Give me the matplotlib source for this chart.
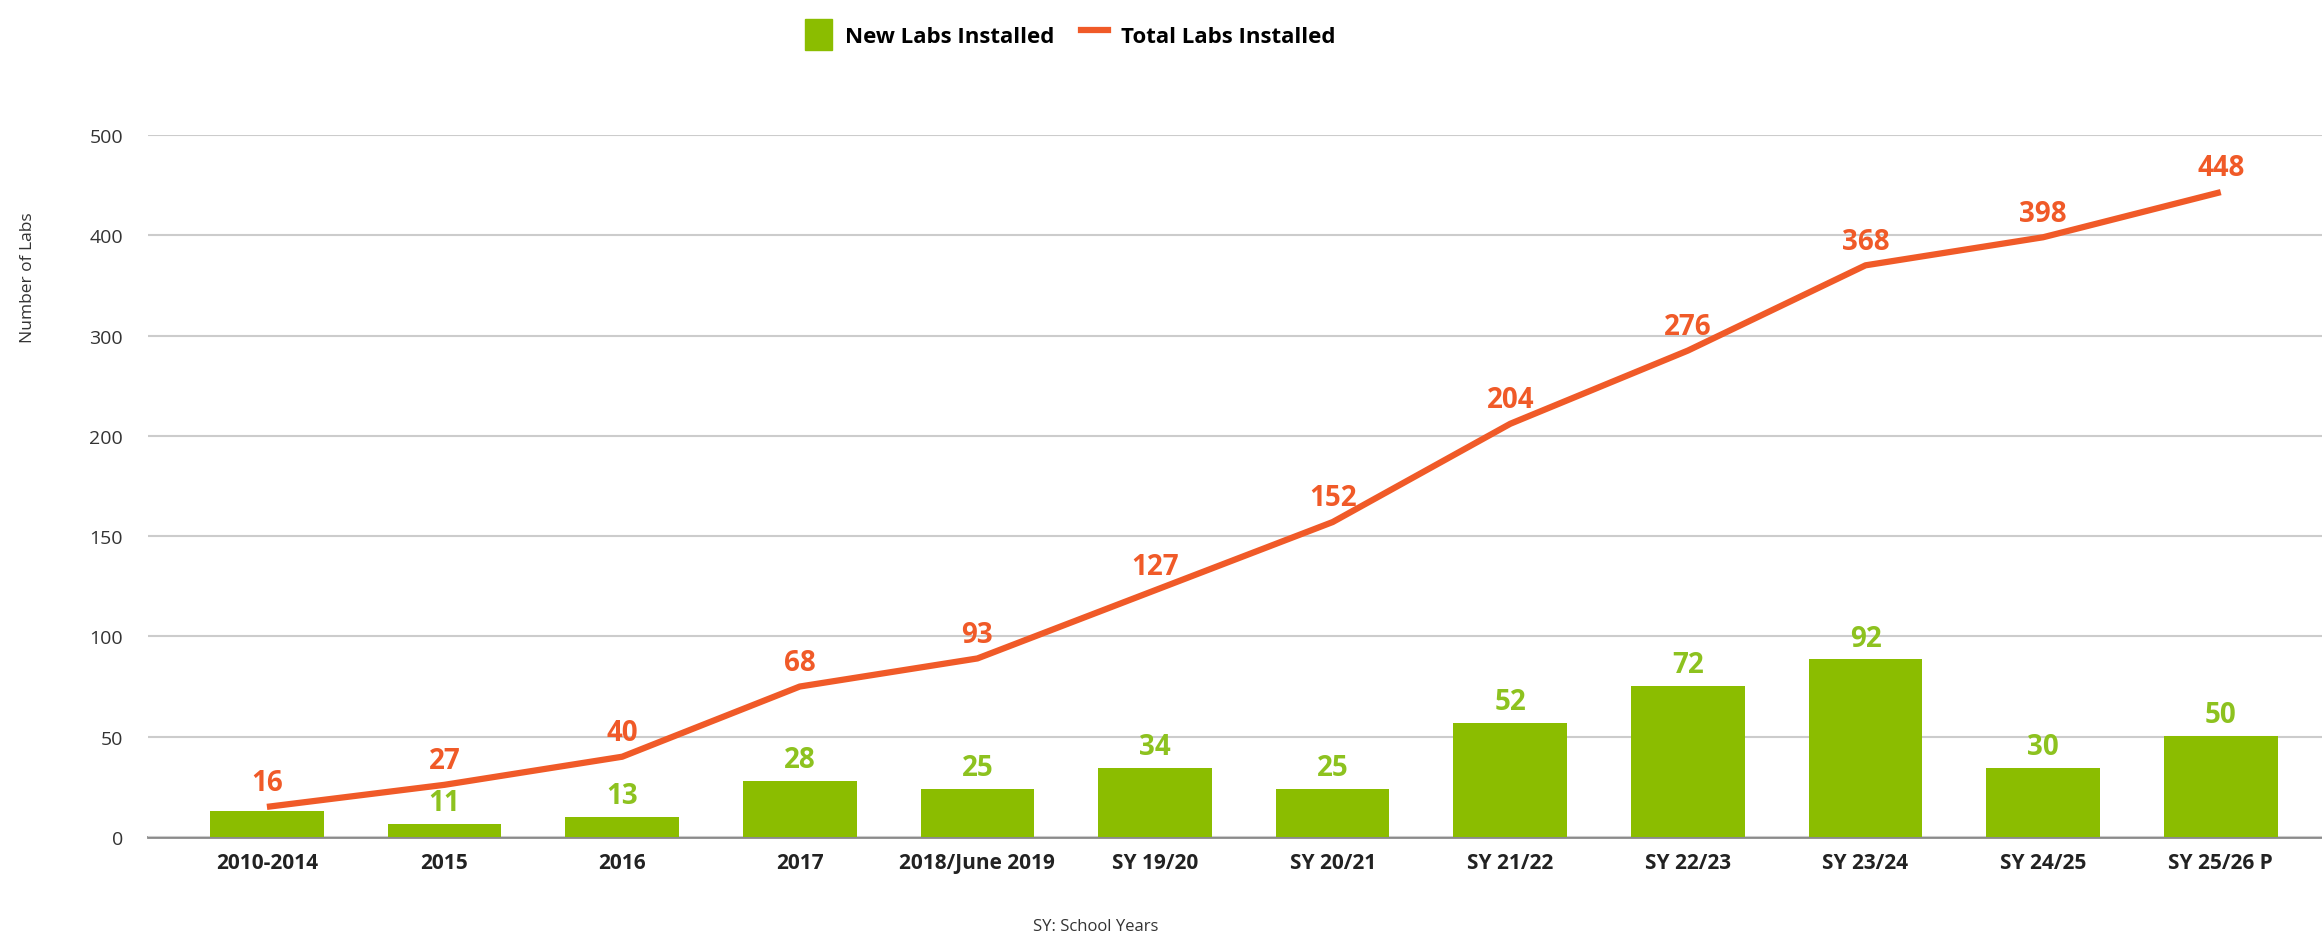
import numpy as np
import matplotlib
matplotlib.use("Agg")
import matplotlib.pyplot as plt
from matplotlib.patches import Patch
from matplotlib.lines import Line2D

categories = ["2010-2014", "2015", "2016", "2017", "2018/June 2019", "SY 19/20",
              "SY 20/21", "SY 21/22", "SY 22/23", "SY 23/24", "SY 24/25", "SY 25/26 P"]
# bar heights as drawn, and the numbers printed above them
new_heights = [13, 6.5, 10, 28, 24, 34.5, 24, 57, 75.5, 88.5, 34.5, 50.5]
new_labels = [None, 11, 13, 28, 25, 34, 25, 52, 72, 92, 30, 50]
# line values as drawn, and the numbers printed above them
total_heights = [15, 26, 40, 75, 89, 123, 157, 212, 285, 370, 398, 443]
total_labels = [16, 27, 40, 68, 93, 127, 152, 204, 276, 368, 398, 448]
yticks = [0, 50, 100, 150, 200, 300, 400, 500]

GREEN = "#8bbd00"
GREEN_TXT = "#8dc21f"
ORANGE = "#f05a28"

plt.rcParams['font.family'] = ['Open Sans', 'DejaVu Sans']


# y axis: 0-200 in steps of 50, then 200-500 in steps of 100, equally spaced
def fwd(y):
    y = np.asarray(y, dtype=float)
    return np.where(y <= 200, y / 50, 4 + (y - 200) / 100)


def inv(v):
    v = np.asarray(v, dtype=float)
    return np.where(v <= 4, v * 50, 200 + (v - 4) * 100)


fig = plt.figure(figsize=(23.22, 9.37), dpi=100)
ax = fig.add_axes([0.0637, 0.1057, 0.9363, 0.7492])
ax.set_yscale('function', functions=(fwd, inv))
ax.set_ylim(0, 500)
ax.set_yticks(yticks)
ax.set_yticklabels([str(t) for t in yticks])
ax.set_xlim(-0.67, 11.57)

x = np.arange(len(categories))
ax.bar(x, new_heights, width=0.64, color=GREEN, zorder=2)
ax.plot(x, total_heights, color=ORANGE, lw=4.5, solid_joinstyle='round',
        solid_capstyle='butt', zorder=3)

for xi, h, lab in zip(x, new_heights, new_labels):
    if lab is None:
        continue
    ax.annotate(str(lab), (xi, h), xytext=(0, 10), textcoords='offset points',
                ha='center', va='baseline', color=GREEN_TXT, fontsize=20,
                fontweight='bold', zorder=4)

for xi, h, lab in zip(x, total_heights, total_labels):
    ax.annotate(str(lab), (xi, h), xytext=(0, 12), textcoords='offset points',
                ha='center', va='baseline', color=ORANGE, fontsize=20,
                fontweight='bold', zorder=4)

ax.set_xticks(x)
ax.set_xticklabels(categories, fontsize=15, fontweight='bold', color='#222222')
ax.tick_params(axis='x', length=0, pad=11)
ax.tick_params(axis='y', length=0, pad=18, labelsize=14, labelcolor='#333333')

ax.grid(axis='y', color='#cccccc', lw=1.5, zorder=0)
for s in ['top', 'right', 'left']:
    ax.spines[s].set_visible(False)
ax.spines['bottom'].set_color('#8a8a8a')
ax.spines['bottom'].set_linewidth(2)
ax.spines['bottom'].set_zorder(1)

fig.text(0.012, 0.704, "Number of Labs", rotation=90, ha='center', va='center',
         fontsize=12.5, color='#333333')
fig.text(0.472, 0.0107, "SY: School Years", ha='center', va='center',
         fontsize=12, color='#333333')

handles = [Patch(color=GREEN), Line2D([0], [0], color=ORANGE, lw=4.5)]
fig.legend(handles, ["New Labs Installed", "Total Labs Installed"],
           loc='upper center', bbox_to_anchor=(0.461, 1.0), ncol=2, frameon=False,
           prop={'weight': 'bold', 'size': 16}, handlelength=1.2, handleheight=1.8,
           columnspacing=1.2, handletextpad=0.6)

fig.savefig("out.png", dpi=100)
